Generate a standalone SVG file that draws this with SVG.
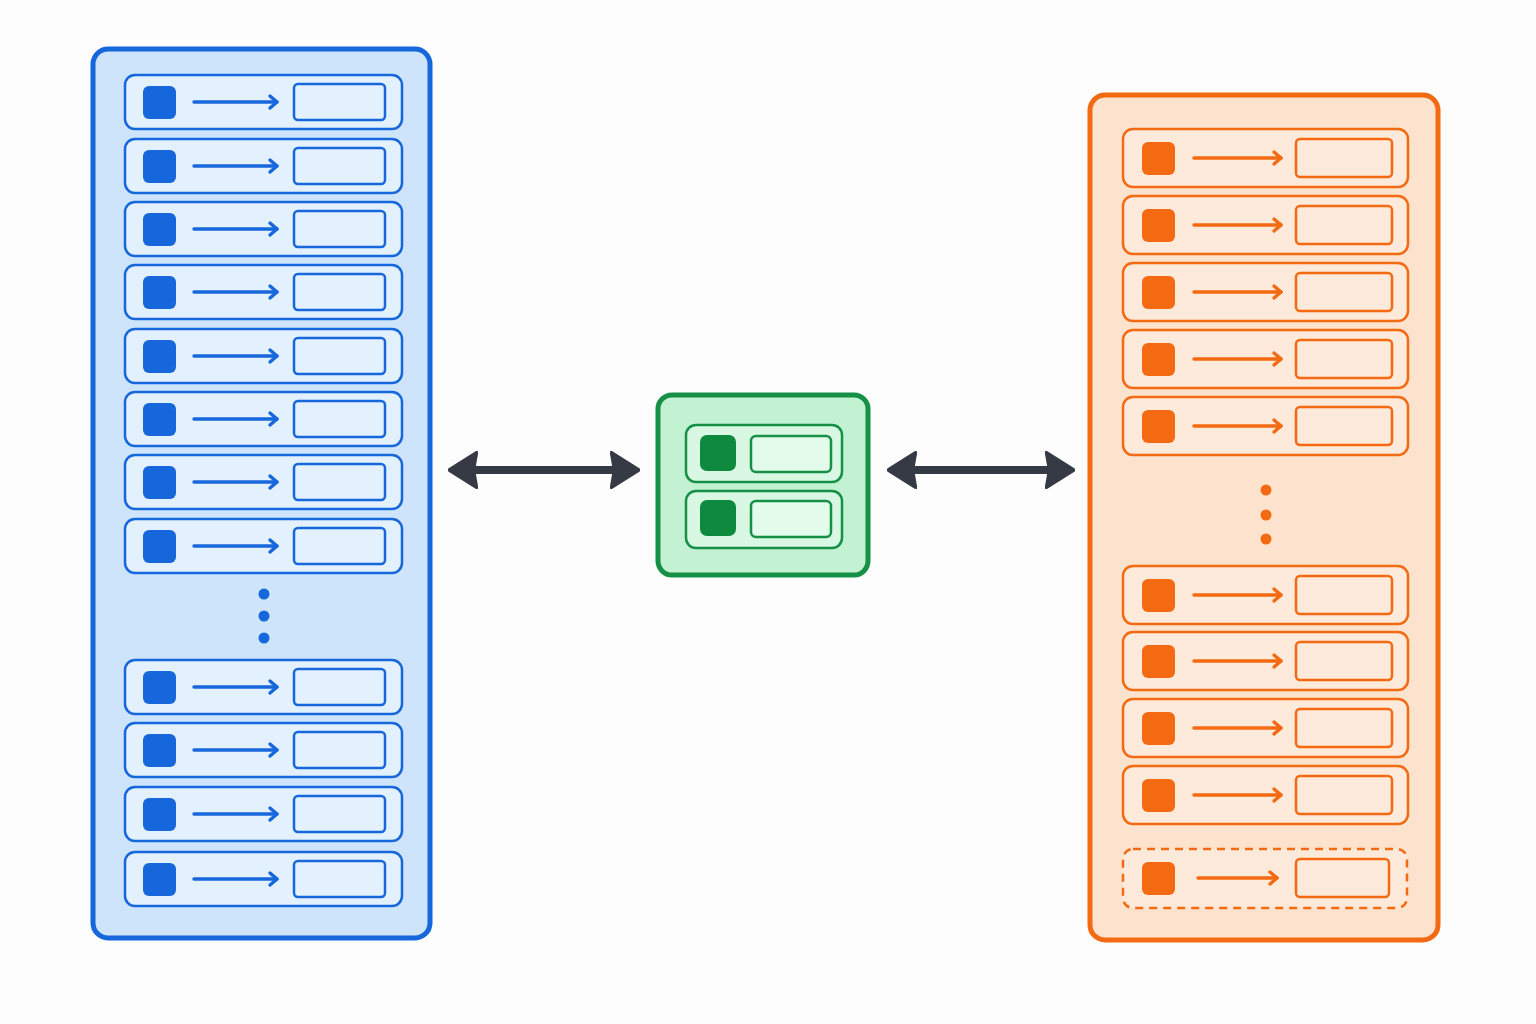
<svg xmlns="http://www.w3.org/2000/svg" xmlns:xlink="http://www.w3.org/1999/xlink" width="1536" height="1024" viewBox="0 0 1536 1024">
<style>
.bS{stroke:#1767dc}
.oS{stroke:#f46a12}
.gS{stroke:#159046}
.row{stroke-width:2.5}
.ln{fill:none;stroke-width:3.4;stroke-linecap:round;stroke-linejoin:round}
.conn{stroke:#353a45;stroke-width:8;fill:none}
</style>
<defs>
<g id="rowB">
<rect x="0" y="0" width="277" height="54" rx="10" fill="#e3f0fd" class="bS row"/>
<rect x="18" y="11" width="33" height="33" rx="6" fill="#1767dc"/>
<line x1="69" y1="27" x2="152" y2="27" class="bS ln"/>
<polyline points="145,21 152,27 145,33" class="bS ln"/>
<rect x="169" y="9" width="91" height="36" rx="4" fill="#e3f0fd" class="bS row"/>
</g>
<g id="rowO">
<rect x="0" y="0" width="285" height="58" rx="10" fill="#feeadb" class="oS row"/>
<rect x="19" y="13" width="33" height="33" rx="6" fill="#f46a12"/>
<line x1="71" y1="29" x2="158" y2="29" class="oS ln"/>
<polyline points="151,23 158,29 151,35" class="oS ln"/>
<rect x="173" y="10" width="96" height="38" rx="4" fill="#feeadb" class="oS row"/>
</g>
<marker id="ah" viewBox="0 0 10 10" refX="5" refY="5" markerWidth="3.8" markerHeight="4.8" orient="auto-start-reverse" markerUnits="strokeWidth" preserveAspectRatio="none">
<path d="M0.5,0.5 L9.5,5 L0.5,9.5 L1.5,5 Z" fill="#353a45" stroke="#353a45" stroke-width="1" stroke-linejoin="round"/>
</marker>
</defs>
<rect width="1536" height="1024" fill="#fdfdfd"/>

<g id="left-panel">
<rect x="93" y="49" width="337" height="889" rx="15" fill="#cde4fb" stroke="#1767dc" stroke-width="5"/>
<use xlink:href="#rowB" x="125" y="75"/>
<use xlink:href="#rowB" x="125" y="139"/>
<use xlink:href="#rowB" x="125" y="202"/>
<use xlink:href="#rowB" x="125" y="265"/>
<use xlink:href="#rowB" x="125" y="329"/>
<use xlink:href="#rowB" x="125" y="392"/>
<use xlink:href="#rowB" x="125" y="455"/>
<use xlink:href="#rowB" x="125" y="519"/>
<circle cx="264" cy="594" r="5.5" fill="#1767dc"/>
<circle cx="264" cy="616" r="5.5" fill="#1767dc"/>
<circle cx="264" cy="638" r="5.5" fill="#1767dc"/>
<use xlink:href="#rowB" x="125" y="660"/>
<use xlink:href="#rowB" x="125" y="723"/>
<use xlink:href="#rowB" x="125" y="787"/>
<use xlink:href="#rowB" x="125" y="852"/>
</g>

<g id="center-node">
<rect x="658" y="395" width="210" height="180" rx="14" fill="#c3f2d3" stroke="#159046" stroke-width="5"/>
<rect x="686" y="425" width="156" height="57" rx="10" fill="#d8f8e3" class="gS row"/>
<rect x="700" y="435" width="36" height="36" rx="7" fill="#0d8a3e"/>
<rect x="751" y="436" width="80" height="36" rx="5" fill="#e2fbea" class="gS row"/>
<rect x="686" y="491" width="156" height="57" rx="10" fill="#d8f8e3" class="gS row"/>
<rect x="700" y="500" width="36" height="36" rx="7" fill="#0d8a3e"/>
<rect x="751" y="501" width="80" height="36" rx="5" fill="#e2fbea" class="gS row"/>
</g>

<g id="right-panel">
<rect x="1090" y="95" width="348" height="845" rx="15" fill="#fde3cd" stroke="#f46a12" stroke-width="5"/>
<use xlink:href="#rowO" x="1123" y="129"/>
<use xlink:href="#rowO" x="1123" y="196"/>
<use xlink:href="#rowO" x="1123" y="263"/>
<use xlink:href="#rowO" x="1123" y="330"/>
<use xlink:href="#rowO" x="1123" y="397"/>
<circle cx="1266" cy="490" r="5.5" fill="#f46a12"/>
<circle cx="1266" cy="515" r="5.5" fill="#f46a12"/>
<circle cx="1266" cy="539" r="5.5" fill="#f46a12"/>
<use xlink:href="#rowO" x="1123" y="566"/>
<use xlink:href="#rowO" x="1123" y="632"/>
<use xlink:href="#rowO" x="1123" y="699"/>
<use xlink:href="#rowO" x="1123" y="766"/>
<g id="dashed-row">
<rect x="1123" y="849" width="284" height="59" rx="10" fill="#feeadb" class="oS row" stroke-dasharray="8,6"/>
<rect x="1142" y="862" width="33" height="33" rx="6" fill="#f46a12"/>
<line x1="1198" y1="878" x2="1277" y2="878" class="oS ln"/>
<polyline points="1270,872 1277,878 1270,884" class="oS ln"/>
<rect x="1296" y="859" width="93" height="38" rx="4" fill="#feeadb" class="oS row"/>
</g>
</g>

<g id="connectors">
<line x1="463" y1="470" x2="625" y2="470" class="conn" marker-start="url(#ah)" marker-end="url(#ah)"/>
<line x1="902" y1="470" x2="1060" y2="470" class="conn" marker-start="url(#ah)" marker-end="url(#ah)"/>
</g>
</svg>
